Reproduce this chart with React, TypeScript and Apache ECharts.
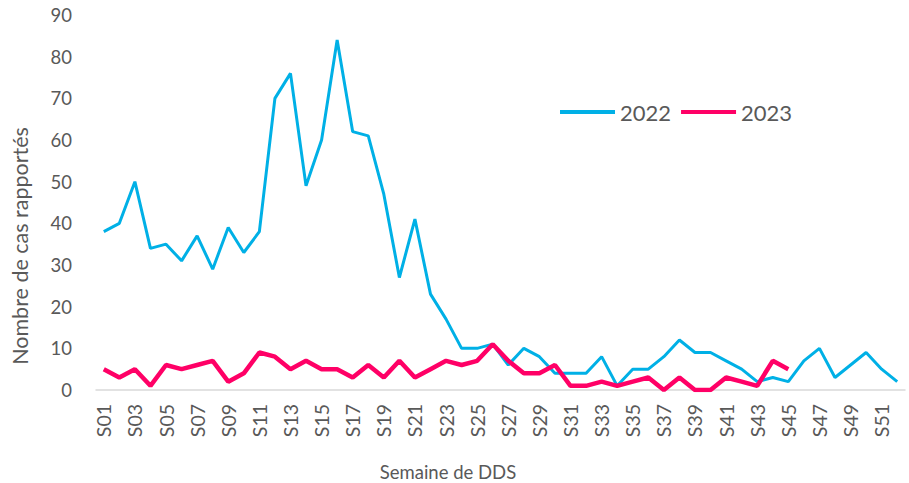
import React, { useEffect, useRef } from "react";
import * as echarts from "echarts";

const weeks: string[] = Array.from({ length: 52 }, (_, i) => "S" + String(i + 1).padStart(2, "0"));

const cases2022: number[] = [
  38, 40, 50, 34, 35, 31, 37, 29, 39, 33,
  38, 70, 76, 49, 60, 84, 62, 61, 47, 27,
  41, 23, 17, 10, 10, 11, 6, 10, 8, 4,
  4, 4, 8, 1, 5, 5, 8, 12, 9, 9,
  7, 5, 2, 3, 2, 7, 10, 3, 6, 9,
  5, 2,
];

const cases2023: number[] = [
  5, 3, 5, 1, 6, 5, 6, 7, 2, 4,
  9, 8, 5, 7, 5, 5, 3, 6, 3, 7,
  3, 5, 7, 6, 7, 11, 7, 4, 4, 6,
  1, 1, 2, 1, 2, 3, 0, 3, 0, 0,
  3, 2, 1, 7, 5,
];

const yTicks = { min: 0, max: 90, interval: 10 };
const xTitle = "Semaine de DDS";
const yTitle = "Nombre de cas rapportés";

const FONT = "Lato, 'Open Sans', sans-serif";
const GREY = "#595959";
const BLUE = "#00B0E6";
const PINK = "#FF0066";

export default function App() {
  const ref = useRef<HTMLDivElement>(null);
  useEffect(() => {
    if (!ref.current) return;
    const chart = echarts.init(ref.current, undefined, { renderer: "svg" });
    chart.setOption({
      animation: false,
      textStyle: { fontFamily: FONT },
      grid: { left: 96, right: 4, top: 15, bottom: 93, containLabel: false },
      legend: {
        left: 555,
        top: 96,
        icon: "rect",
        itemWidth: 55,
        itemHeight: 4,
        itemGap: 10,
        textStyle: { fontSize: 22, color: GREY, fontFamily: FONT },
        data: ["2022", "2023"],
      },
      graphic: [
        {
          type: "text",
          x: 448,
          y: 472,
          style: {
            text: xTitle,
            fontSize: 18.5,
            fill: GREY,
            fontFamily: FONT,
            align: "center",
            verticalAlign: "middle",
          },
        },
        {
          type: "text",
          x: 20,
          y: 246,
          rotation: Math.PI / 2,
          style: {
            text: yTitle,
            fontSize: 21.5,
            fill: GREY,
            fontFamily: FONT,
            align: "center",
            verticalAlign: "middle",
          },
        },
      ],
      xAxis: {
        type: "category",
        data: weeks,
        boundaryGap: true,
        axisLine: { lineStyle: { color: "#D9D9D9", width: 1.5 } },
        axisTick: { show: false },
        axisLabel: {
          interval: 1,
          rotate: 90,
          margin: 14,
          fontSize: 19.5,
          color: GREY,
          fontFamily: FONT,
        },
      },
      yAxis: {
        type: "value",
        min: yTicks.min,
        max: yTicks.max,
        interval: yTicks.interval,
        splitLine: { show: false },
        axisLine: { show: false },
        axisTick: { show: false },
        axisLabel: { fontSize: 18.5, color: GREY, margin: 24, fontFamily: FONT },
      },
      series: [
        {
          name: "2022",
          type: "line",
          data: cases2022,
          symbol: "none",
          lineStyle: { color: BLUE, width: 3 },
          itemStyle: { color: BLUE },
        },
        {
          name: "2023",
          type: "line",
          data: cases2023,
          symbol: "none",
          lineStyle: { color: PINK, width: 4.5 },
          itemStyle: { color: PINK },
        },
      ],
    });
    return () => chart.dispose();
  }, []);
  return (
    <div
      ref={ref}
      style={{ position: "absolute", left: 0, top: 0, width: 909, height: 483 }}
    />
  );
}
